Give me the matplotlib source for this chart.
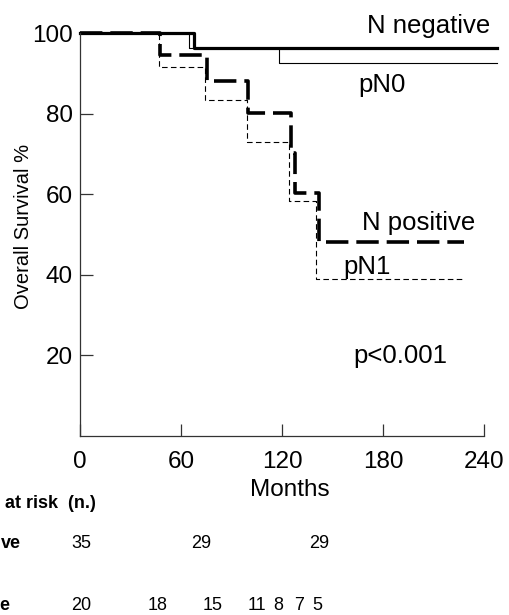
import matplotlib
matplotlib.use("Agg")
import matplotlib.pyplot as plt

plt.rcParams['font.family'] = ['Liberation Sans', 'DejaVu Sans']

# survival curves (months, % surviving)
neg_t = [0, 68, 248]
neg_s = [100, 96.3, 96.3]
pn0_t = [0, 65, 118, 248]
pn0_s = [100, 96.3, 92.5, 92.5]
pos_t = [0, 47.5, 75.5, 100, 125.5, 127.5, 142, 228]
pos_s = [100, 94.5, 88.1, 80.1, 70.2, 60.3, 48.1, 48.1]
pn1_t = [0, 47, 74, 99, 124, 140, 229]
pn1_s = [100, 91.6, 83.4, 73.0, 58.3, 39.0, 39.0]

# numbers at risk
risk_neg_t = [1, 72, 142]
risk_neg_n = [35, 29, 29]
risk_pos_t = [1, 46, 79, 105, 118, 130, 141]
risk_pos_n = [20, 18, 15, 11, 8, 7, 5]

xticks = [0, 60, 120, 180, 240]
yticks = [20, 40, 60, 80, 100]

W, H = 509, 615
fig = plt.figure(figsize=(W / 100, H / 100), dpi=100)
ax = fig.add_axes([80 / W, 179 / H, 404 / W, 403 / H])

ax.plot(neg_t, neg_s, drawstyle='steps-post', color='black', lw=2.3, clip_on=False)
ax.plot(pn0_t, pn0_s, drawstyle='steps-post', color='black', lw=0.8, clip_on=False)
ax.plot(pos_t, pos_s, drawstyle='steps-post', color='black', lw=2.6,
        dashes=(6.2, 2.2), clip_on=False)
ax.plot(pn1_t, pn1_s, drawstyle='steps-post', color='black', lw=0.8,
        dashes=(5, 3), clip_on=False)

ax.set_xlim(0, 240)
ax.set_ylim(0, 100)
ax.set_xticks(xticks)
ax.set_yticks(yticks)
for s in ['top', 'right']:
    ax.spines[s].set_visible(False)
for s in ['left', 'bottom']:
    ax.spines[s].set_linewidth(0.9)
    ax.spines[s].set_color('#333333')
ax.tick_params(axis='both', direction='in', length=9, width=0.9,
               color='#333333', labelsize=17.5)
ax.tick_params(axis='x', pad=11)
ax.tick_params(axis='y', pad=5)

ax.text(170.5, 100, 'N negative', fontsize=18.5, va='baseline')
ax.text(165.2, 85.4, 'pN0', fontsize=18.5, va='baseline')
ax.text(167.6, 51.1, 'N positive', fontsize=18.5, va='baseline')
ax.text(156.3, 40.2, 'pN1', fontsize=18.5, va='baseline')
ax.text(162.2, 18.1, 'p<0.001', fontsize=18.5, va='baseline')

fig.text(24 / W, 1 - 226 / H, 'Overall Survival %', rotation=90,
         fontsize=14.5, ha='center', va='center')
fig.text(290 / W, 1 - 490 / H, 'Months', fontsize=17.5, ha='center', va='center')

# at risk table (row labels are cropped at the left edge in the original)
fig.text(5 / W, 1 - 503 / H, 'at risk  (n.)', fontsize=13, weight='bold',
         ha='left', va='center')
fig.text(1 / W, 1 - 543 / H, 've', fontsize=13, weight='bold',
         ha='left', va='center')
fig.text(9 / W, 1 - 606 / H, 'e', fontsize=13, weight='bold',
         ha='right', va='center')
tr = ax.get_xaxis_transform()
for t, n in zip(risk_neg_t, risk_neg_n):
    ax.text(t, (436 - 543) / 403, str(n), transform=tr, fontsize=13,
            ha='center', va='center', clip_on=False)
for t, n in zip(risk_pos_t, risk_pos_n):
    ax.text(t, (436 - 606) / 403, str(n), transform=tr, fontsize=13,
            ha='center', va='center', clip_on=False)

fig.savefig('out.png', dpi=100)
